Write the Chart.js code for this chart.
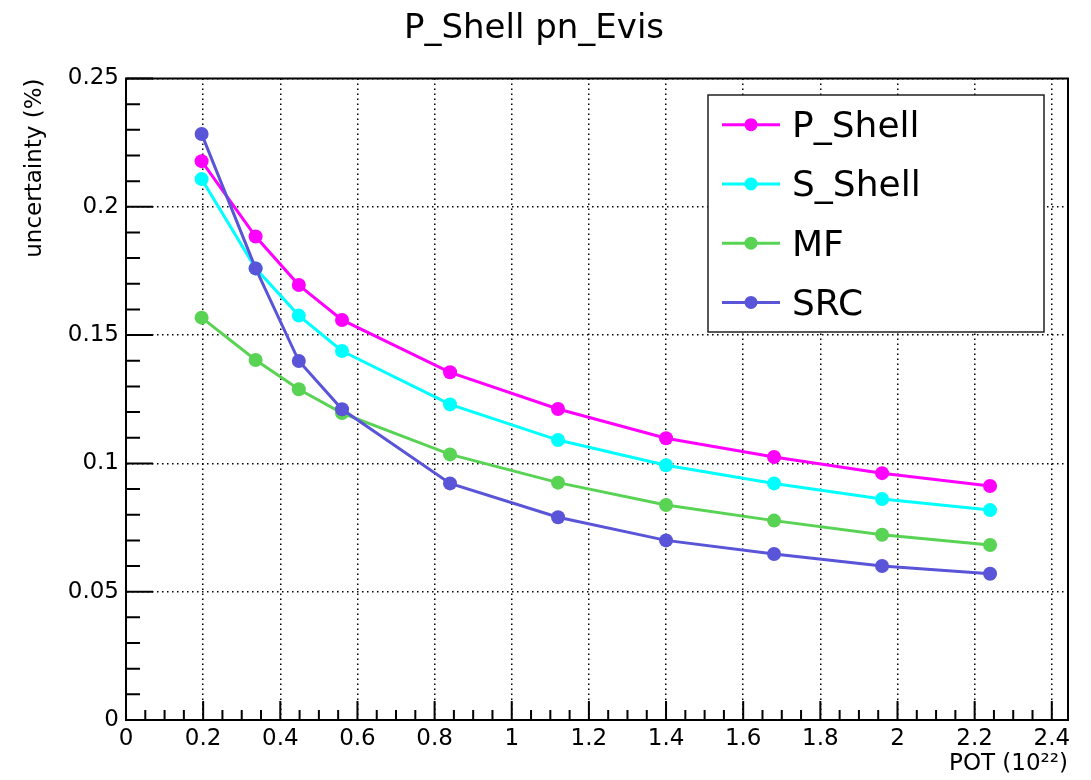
<!DOCTYPE html>
<html>
<head>
<meta charset="utf-8">
<title>P_Shell pn_Evis</title>
<script src="https://cdn.jsdelivr.net/npm/chart.js@4/dist/chart.umd.min.js"></script>
<style>
  html, body { margin: 0; padding: 0; background: #fff; }
  #wrap { width: 1091px; height: 780px; position: relative; }
</style>
</head>
<body>
<div id="wrap"><canvas id="uncChart"></canvas></div>
<script>
// POT (10^22) values where the uncertainty was evaluated
var potValues = [0.196, 0.336, 0.448, 0.56, 0.84, 1.12, 1.40, 1.68, 1.96, 2.24];

// uncertainty (%) per model
var pShell = [0.2178, 0.1884, 0.1695, 0.1559, 0.1355, 0.1212, 0.1098, 0.1025, 0.0962, 0.0912];
var sShell = [0.2108, 0.1760, 0.1576, 0.1438, 0.1230, 0.1091, 0.0993, 0.0922, 0.0861, 0.0818];
var mf     = [0.1568, 0.1403, 0.1289, 0.1196, 0.1035, 0.0925, 0.0838, 0.0777, 0.0722, 0.0682];
var src    = [0.2284, 0.1760, 0.1399, 0.1211, 0.0922, 0.0790, 0.0700, 0.0647, 0.0600, 0.0570];

var seriesNames = ['P_Shell', 'S_Shell', 'MF', 'SRC'];

// axis tick labels
var xTicks = [0, 0.2, 0.4, 0.6, 0.8, 1, 1.2, 1.4, 1.6, 1.8, 2, 2.2, 2.4];
var yTicks = [0, 0.05, 0.1, 0.15, 0.2, 0.25];

var FONT = "'DejaVu Sans', sans-serif";

function pts(ys) {
  return ys.map(function (y, i) { return { x: potValues[i], y: y }; });
}

function fmt(v) { return String(Number(v.toFixed(2))); }

function makeSet(label, data, color, order) {
  return {
    label: label,
    data: pts(data),
    borderColor: color,
    backgroundColor: color,
    borderWidth: 3,
    pointRadius: 7,
    pointHoverRadius: 7,
    pointBorderWidth: 0,
    tension: 0,
    order: order
  };
}

// ROOT-like frame, inner tick marks and the legend box
var rootStyle = {
  id: 'rootStyle',
  afterDatasetsDraw: function (chart) {
    var ctx = chart.ctx;
    var a = chart.chartArea;
    var xs = chart.scales.x, ys = chart.scales.y;
    ctx.save();

    // frame
    ctx.strokeStyle = '#000';
    ctx.lineWidth = 2;
    ctx.strokeRect(a.left, a.top, a.right - a.left, a.bottom - a.top);

    // y ticks (major 0.05, minor 0.01)
    ctx.lineWidth = 2;
    ctx.beginPath();
    for (var i = 0; i <= 25; i++) {
      var py = ys.getPixelForValue(i * 0.01);
      var len = (i % 5 === 0) ? 27 : 14;
      ctx.moveTo(a.left, py);
      ctx.lineTo(a.left + len, py);
    }
    // x ticks (major 0.2, minor 0.05)
    for (var j = 0; j <= 48; j++) {
      var v = j * 0.05;
      if (v > xs.max) break;
      var px = xs.getPixelForValue(v);
      var l2 = (j % 4 === 0) ? 19 : 10;
      ctx.moveTo(px, a.bottom);
      ctx.lineTo(px, a.bottom - l2);
    }
    ctx.stroke();

    // legend
    var bx = 708, by = 95, bw = 336, bh = 237;
    ctx.fillStyle = '#fff';
    ctx.fillRect(bx, by, bw, bh);
    ctx.strokeStyle = '#222';
    ctx.lineWidth = 1.5;
    ctx.strokeRect(bx, by, bw, bh);
    var sets = chart.data.datasets;
    ctx.font = '36px ' + FONT;
    ctx.textAlign = 'left';
    ctx.textBaseline = 'alphabetic';
    for (var k = 0; k < sets.length; k++) {
      var cy = by + (k + 0.5) * bh / sets.length;
      ctx.strokeStyle = sets[k].borderColor;
      ctx.lineWidth = 3;
      ctx.beginPath();
      ctx.moveTo(bx + 14, cy);
      ctx.lineTo(bx + 72, cy);
      ctx.stroke();
      ctx.fillStyle = sets[k].borderColor;
      ctx.beginPath();
      ctx.arc(bx + 43, cy, 6.5, 0, Math.PI * 2);
      ctx.fill();
      ctx.fillStyle = '#000';
      ctx.fillText(sets[k].label, bx + 84, cy + 12.5);
    }
    ctx.restore();
  }
};

var ctx = document.getElementById('uncChart').getContext('2d');

new Chart(ctx, {
  type: 'line',
  data: {
    datasets: [
      makeSet(seriesNames[0], pShell, '#ff00ff', 3),
      makeSet(seriesNames[1], sShell, '#00ffff', 2),
      makeSet(seriesNames[2], mf, '#59d354', 1),
      makeSet(seriesNames[3], src, '#5954d8', 0)
    ]
  },
  options: {
    responsive: true,
    maintainAspectRatio: false,
    animation: false,
    layout: { padding: { left: 0, right: 23, top: 0, bottom: 0 } },
    plugins: {
      legend: { display: false },
      tooltip: { enabled: false },
      title: {
        display: true,
        text: 'P_Shell pn_Evis',
        color: '#000',
        font: { family: FONT, size: 34, weight: 'normal', lineHeight: 1.2 },
        padding: { top: 8.5, bottom: 29.2 }
      }
    },
    scales: {
      x: {
        type: 'linear',
        min: 0,
        max: 2.442,
        afterBuildTicks: function (s) { s.ticks = xTicks.map(function (v) { return { value: v }; }); },
        afterFit: function (s) { s.height = 60; },
        ticks: {
          color: '#000',
          font: { family: FONT, size: 23 },
          padding: 5,
          maxRotation: 0,
          autoSkip: false,
          callback: function (v) { return fmt(v); }
        },
        grid: { color: '#000', lineWidth: 1.5, drawTicks: false },
        border: { display: true, color: '#000', width: 2, dash: [1.5, 3.5] },
        title: {
          display: true,
          text: 'POT (10²²)',
          align: 'end',
          color: '#000',
          font: { family: FONT, size: 23, lineHeight: 1.2 },
          padding: { top: 0, bottom: 2 }
        }
      },
      y: {
        type: 'linear',
        min: 0,
        max: 0.25,
        afterBuildTicks: function (s) { s.ticks = yTicks.map(function (v) { return { value: v }; }); },
        afterFit: function (s) { s.width = 126; },
        ticks: {
          color: '#000',
          font: { family: FONT, size: 23 },
          padding: 7,
          callback: function (v) { return fmt(v); }
        },
        grid: { color: '#000', lineWidth: 1.5, drawTicks: false },
        border: { display: true, color: '#000', width: 2, dash: [1.5, 3.5] },
        title: {
          display: true,
          text: 'uncertainty (%)',
          align: 'end',
          color: '#000',
          font: { family: FONT, size: 23, lineHeight: 1.2 },
          padding: { top: 21, bottom: 0 }
        }
      }
    }
  },
  plugins: [rootStyle]
});
</script>
</body>
</html>
